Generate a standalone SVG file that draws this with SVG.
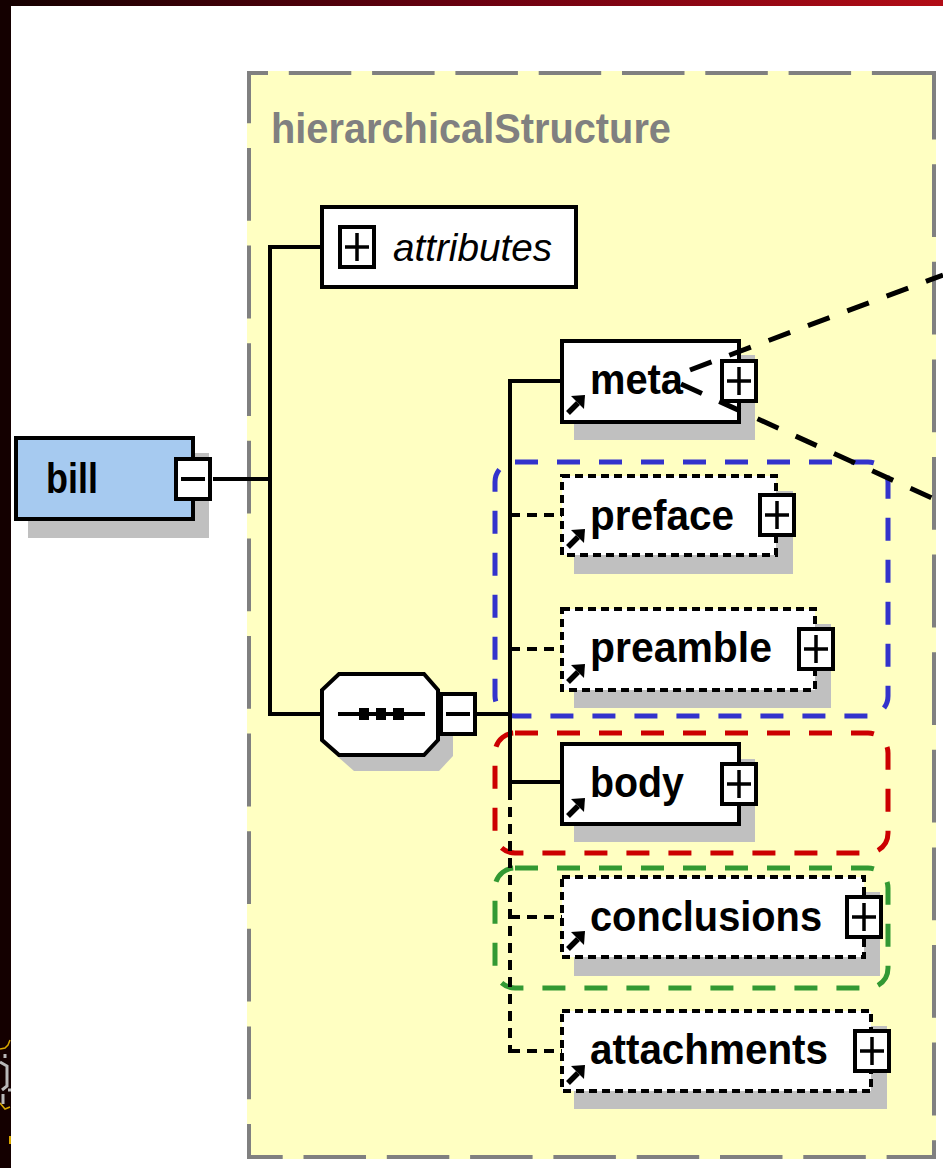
<svg xmlns="http://www.w3.org/2000/svg" width="943" height="1168" viewBox="0 0 943 1168">
<defs>
<linearGradient id="topbar" x1="0" y1="0" x2="1" y2="0">
<stop offset="0" stop-color="#140000"/>
<stop offset="0.5" stop-color="#6a0010"/>
<stop offset="1" stop-color="#b20c16"/>
</linearGradient>
<g id="plus">
<rect x="2" y="2" width="34" height="40" fill="#fff" stroke="#000" stroke-width="4"/>
<path d="M7 22H31M19 8V36" stroke="#000" stroke-width="3.5" fill="none"/>
</g>
<g id="minus">
<rect x="2" y="2" width="34" height="40" fill="#fff" stroke="#000" stroke-width="4"/>
<path d="M7 22H31" stroke="#000" stroke-width="4"/>
</g>
<g id="ref">
<path d="M2 -2L12 -12" stroke="#000" stroke-width="5.5"/>
<path d="M19 -20L5 -19L18 -6Z" fill="#000"/>
</g>
</defs>
<style>
.shadow{fill:#c0c0c0}
.box{fill:#fff;stroke:#000;stroke-width:4}
.opt{fill:#fff;stroke:#000;stroke-width:4;stroke-dasharray:8 5}
.lbl{font-family:"Liberation Sans",Arial,sans-serif;font-weight:bold;font-size:43px;fill:#000}
.wire{stroke:#000;stroke-width:4;fill:none}
.dwire{stroke:#000;stroke-width:4;fill:none;stroke-dasharray:10 7}
.grp{fill:none;stroke-width:5;stroke-dasharray:23 19}
.border{stroke:#808080;stroke-width:4;fill:none}
.lead{stroke:#000;stroke-width:5;fill:none;stroke-dasharray:23 19}
</style>

<!-- background frame -->
<rect x="0" y="0" width="943" height="1168" fill="#fff"/>
<rect x="0" y="0" width="943" height="6" fill="url(#topbar)"/>
<rect x="0" y="0" width="11" height="1168" fill="#140000"/>
<g id="logo-fragment" fill="none">
<path d="M0 1049L5 1048L8 1045L10 1040" stroke="#d8a800" stroke-width="1.5"/>
<path d="M0 1103L5 1109L10 1107" stroke="#d8a800" stroke-width="1.5"/>
<path d="M5 1054V1058M0 1062L7 1066V1086L2 1090M3 1094V1104M8 1090H11" stroke="#b8b8b8" stroke-width="3"/>
<path d="M10 1136V1144" stroke="#d8a800" stroke-width="2"/>
</g>

<!-- hierarchicalStructure container -->
<g id="hierarchicalStructure">
<rect x="247" y="71" width="689" height="1088" fill="#ffffc2"/>
<line class="border" x1="247" y1="73" x2="936" y2="73" stroke-dasharray="62.5 20.8" stroke-dashoffset="41.5"/>
<line class="border" x1="247" y1="1157" x2="936" y2="1157" stroke-dasharray="62.5 20.8" stroke-dashoffset="26.8"/>
<line class="border" x1="249" y1="71" x2="249" y2="1159" stroke-dasharray="72.8 24.8" stroke-dashoffset="20.6"/>
<line class="border" x1="934" y1="71" x2="934" y2="1159" stroke-dasharray="72.8 24.8" stroke-dashoffset="4.4"/>
<text x="271" y="143" font-family="'Liberation Sans',Arial,sans-serif" font-weight="bold" font-size="42" fill="#808080" textLength="400" lengthAdjust="spacingAndGlyphs">hierarchicalStructure</text>
</g>

<!-- group outlines -->
<g id="groups">
<rect class="grp" x="495" y="462" width="393" height="254" rx="20" stroke="#3333cc"/>
<rect class="grp" x="495" y="733" width="393" height="120" rx="20" stroke="#cc0000"/>
<rect class="grp" x="495" y="868" width="393" height="120" rx="20" stroke="#339933"/>
</g>

<!-- connectors -->
<g id="connectors">
<path class="wire" d="M213 479H270M270 245V716M268 247H322M268 714H322M477 714H510"/>
<path class="wire" d="M510 379V790M508 381H562M510 782H562"/>
<path class="dwire" d="M510 790V1053M510 515H562M510 649H562M510 917H562M510 1051H562"/>
</g>

<!-- bill -->
<g id="bill">
<rect class="shadow" x="28" y="453" width="181" height="85"/>
<rect x="16" y="438" width="177" height="81" fill="#a6caf0" stroke="#000" stroke-width="4"/>
<text class="lbl" x="46" y="493" font-size="45" textLength="52" lengthAdjust="spacingAndGlyphs">bill</text>
<use href="#minus" x="174" y="457"/>
</g>

<!-- attributes -->
<g id="attributes">
<rect class="box" x="322" y="207" width="254" height="80"/>
<use href="#plus" x="338" y="225"/>
<text x="393" y="261" font-family="'Liberation Sans',Arial,sans-serif" font-style="italic" font-size="38" fill="#000" textLength="159" lengthAdjust="spacingAndGlyphs">attributes</text>
</g>

<!-- sequence -->
<g id="sequence">
<polygon class="shadow" points="354,690 439,690 453,706 453,756 439,771 354,771 337,756 337,706"/>
<polygon points="339,674 424,674 438,690 438,740 424,755 339,755 322,740 322,690" fill="#fff" stroke="#000" stroke-width="4"/>
<path d="M338 714H425" stroke="#000" stroke-width="4"/>
<rect x="359" y="708" width="10" height="12" fill="#000"/>
<rect x="376" y="708" width="10" height="12" fill="#000"/>
<rect x="393" y="708" width="11" height="12" fill="#000"/>
<use href="#minus" x="439" y="692"/>
</g>

<!-- meta -->
<g id="meta">
<rect class="shadow" x="574" y="355" width="181" height="85"/>
<rect class="box" x="562" y="341" width="177" height="81"/>
<use href="#ref" x="566" y="415"/>
<text class="lbl" x="590" y="394" textLength="93" lengthAdjust="spacingAndGlyphs">meta</text>
<use href="#plus" x="720" y="359"/>
</g>

<!-- preface -->
<g id="preface">
<rect class="shadow" x="574" y="491" width="219" height="83"/>
<rect class="opt" x="562" y="476" width="214" height="79"/>
<use href="#ref" x="566" y="549"/>
<text class="lbl" x="590" y="530" textLength="144" lengthAdjust="spacingAndGlyphs">preface</text>
<use href="#plus" x="758" y="493"/>
</g>

<!-- preamble -->
<g id="preamble">
<rect class="shadow" x="574" y="624" width="257" height="84"/>
<rect class="opt" x="562" y="609" width="253" height="81"/>
<use href="#ref" x="566" y="684"/>
<text class="lbl" x="590" y="662" textLength="182" lengthAdjust="spacingAndGlyphs">preamble</text>
<use href="#plus" x="797" y="627"/>
</g>

<!-- body -->
<g id="body">
<rect class="shadow" x="574" y="759" width="181" height="83"/>
<rect class="box" x="562" y="744" width="177" height="80"/>
<use href="#ref" x="566" y="818"/>
<text class="lbl" x="590" y="797" textLength="94" lengthAdjust="spacingAndGlyphs">body</text>
<use href="#plus" x="720" y="762"/>
</g>

<!-- conclusions -->
<g id="conclusions">
<rect class="shadow" x="574" y="892" width="306" height="84"/>
<rect class="opt" x="562" y="877" width="302" height="80"/>
<use href="#ref" x="566" y="951"/>
<text class="lbl" x="590" y="931" textLength="232" lengthAdjust="spacingAndGlyphs">conclusions</text>
<use href="#plus" x="845" y="895"/>
</g>

<!-- attachments -->
<g id="attachments">
<rect class="shadow" x="574" y="1026" width="313" height="83"/>
<rect class="opt" x="562" y="1011" width="309" height="80"/>
<use href="#ref" x="566" y="1085"/>
<text class="lbl" x="590" y="1064" textLength="238" lengthAdjust="spacingAndGlyphs">attachments</text>
<use href="#plus" x="853" y="1029"/>
</g>

<!-- leader lines from meta -->
<g id="meta-leaders">
<line class="lead" x1="690" y1="370" x2="943" y2="275"/>
<line class="lead" x1="681" y1="384" x2="943" y2="503"/>
</g>
</svg>
